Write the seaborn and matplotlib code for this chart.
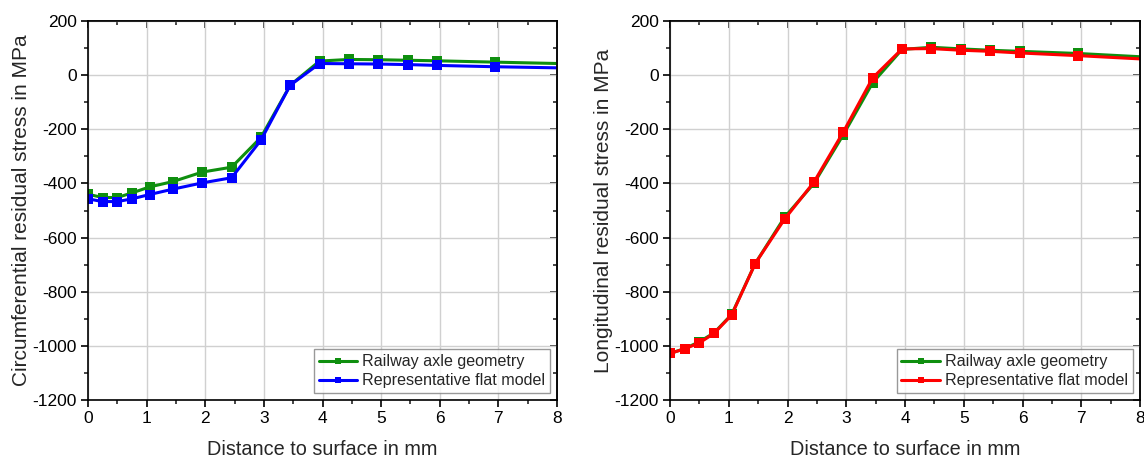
import matplotlib
matplotlib.use("Agg")
import matplotlib.pyplot as plt
import seaborn as sns
import pandas as pd
from matplotlib.ticker import MultipleLocator, NullFormatter

# ---- data ----
x_mm = [0, 0.25, 0.5, 0.75, 1.05, 1.45, 1.95, 2.45, 2.95, 3.45, 3.95, 4.45, 4.95, 5.45, 5.95, 6.95, 8.0]

circ_axle = [-440, -452, -452, -435, -413, -393, -358, -340, -230, -37, 52, 58, 57, 55, 53, 48, 43]
circ_flat = [-457, -467, -467, -457, -441, -421, -398, -379, -240, -37, 43, 42, 41, 39, 36, 31, 27]

long_axle = [-1028, -1010, -985, -952, -884, -696, -525, -400, -220, -28, 95, 103, 97, 92, 88, 80, 68]
long_flat = [-1028, -1011, -989, -954, -886, -696, -532, -395, -210, -10, 97, 98, 92, 88, 82, 72, 60]

series_names = ["Railway axle geometry", "Representative flat model"]
xlabel = "Distance to surface in mm"
ylabel_left = "Circumferential residual stress in MPa"
ylabel_right = "Longitudinal residual stress in MPa"

sns.set_theme(style="ticks")
plt.rcParams['font.family'] = ['Liberation Sans', 'DejaVu Sans']
plt.rcParams['axes.unicode_minus'] = False

fig = plt.figure(figsize=(11.44, 4.57), dpi=100)
ax1 = fig.add_axes([88/1144, 57/457, 469/1144, 379/457])
ax2 = fig.add_axes([670/1144, 57/457, 470/1144, 379/457])

green = "#0f8f0f"

def set_locs(axis_obj, major, minor):
    axis_obj.set_major_locator(MultipleLocator(major))
    axis_obj.set_minor_locator(MultipleLocator(minor))

def draw(ax, y1, y2, c2, ylabel):
    df = pd.DataFrame({
        "x": x_mm * 2,
        "y": y1 + y2,
        "s": [series_names[0]] * len(x_mm) + [series_names[1]] * len(x_mm),
    })
    mk = list(range(len(x_mm) - 1))
    for name, col in zip(series_names, [green, c2]):
        sub = df[df.s == name]
        sns.lineplot(data=sub, x="x", y="y", ax=ax, color=col, linewidth=2.2,
                     marker="s", markersize=7, markeredgewidth=0, markevery=mk,
                     label=name, sort=False)
    ax.set_xlim(0, 8)
    ax.set_ylim(-1200, 200)
    set_locs(ax.xaxis, 1, 0.5)
    set_locs(ax.yaxis, 200, 100)
    ax.grid(True, which="major", color="#d0d0d0", linewidth=1.0)
    ax.set_axisbelow(True)
    for sp in ax.spines.values():
        sp.set_visible(True)
        sp.set_color("black")
        sp.set_linewidth(1.2)
    ax.tick_params(which="major", direction="out", length=5, width=1.2,
                   labelsize=12.5, colors="black", pad=3)
    ax.tick_params(which="minor", direction="out", length=3, width=1.2)
    # mirrored inward ticks on top and right
    top = ax.secondary_xaxis("top")
    set_locs(top.xaxis, 1, 0.5)
    top.xaxis.set_major_formatter(NullFormatter())
    top.tick_params(which="major", direction="in", length=5, width=1.2)
    top.tick_params(which="minor", direction="in", length=3, width=1.2)
    top.spines["top"].set_linewidth(1.2)
    right = ax.secondary_yaxis("right")
    set_locs(right.yaxis, 200, 100)
    right.yaxis.set_major_formatter(NullFormatter())
    right.tick_params(which="major", direction="in", length=5, width=1.2)
    right.tick_params(which="minor", direction="in", length=3, width=1.2)
    right.spines["right"].set_linewidth(1.2)

    ax.set_xlabel(xlabel, fontsize=14.3, labelpad=10)
    ax.set_ylabel(ylabel, fontsize=15, labelpad=1)
    leg = ax.legend(loc="lower right", bbox_to_anchor=(0.985, 0.018), fontsize=11.6,
                    frameon=True, fancybox=False, edgecolor="#808080",
                    handlelength=2.4, handletextpad=0.3, borderpad=0.3,
                    labelspacing=0.25, borderaxespad=0)
    leg.get_frame().set_linewidth(1.0)
    for h in leg.legend_handles:
        h.set_markersize(5)

draw(ax1, circ_axle, circ_flat, "#0000ff", ylabel_left)
draw(ax2, long_axle, long_flat, "#ff0000", ylabel_right)

fig.savefig("out.png", dpi=100)
